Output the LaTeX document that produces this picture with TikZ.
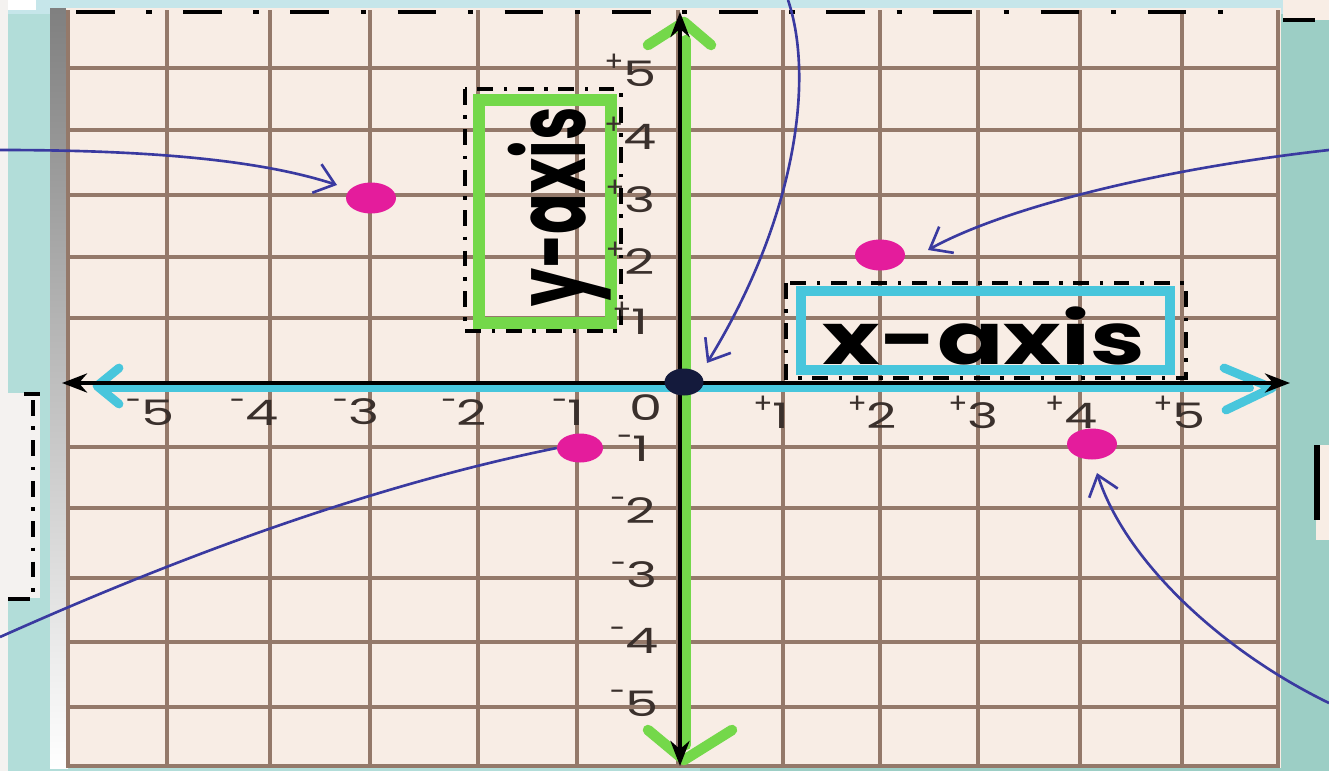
\documentclass[tikz,border=0pt]{standalone}
\usepackage{fontspec}
\usepackage{graphicx}
\setmainfont{Poppins}
\usetikzlibrary{arrows.meta,shapes.geometric}
\definecolor{paper}{HTML}{F8EDE5}
\definecolor{tealL}{HTML}{B2DDD9}
\definecolor{tealR}{HTML}{9CCEC5}
\definecolor{sky}{HTML}{C6E6EA}
\definecolor{shade}{HTML}{A6C9BF}
\definecolor{gridc}{HTML}{94796A}
\definecolor{pinkdot}{HTML}{E41C9C}
\definecolor{navy}{HTML}{141A3C}
\definecolor{pen}{HTML}{3A3AA0}
\definecolor{axgreen}{HTML}{74D84A}
\definecolor{axcyan}{HTML}{48C6DC}
\definecolor{ink}{HTML}{3A302C}
\definecolor{card}{HTML}{F4F2F0}
\newcommand{\tnum}[2]{\llap{\raisebox{0.42em}{\fontsize{16}{16}\selectfont #1}}\scalebox{1.5}[1]{#2}}
\begin{document}
\begin{tikzpicture}[x=0.02cm,y=-0.02cm,
  gridline/.style={gridc, line width=2.1pt},
  dashdotline/.style={black, line width=2.3pt, dash pattern=on 22pt off 18pt on 3pt off 18pt},
  boxdash/.style={black, line width=2pt, dash pattern=on 9pt off 6pt on 2pt off 6pt},
  ticklab/.style={ink, font=\fontsize{20}{22}\selectfont, inner sep=0pt},
  pinkpt/.style={ellipse, fill=pinkdot, minimum width=1cm, minimum height=0.62cm, inner sep=0pt},
  penarrow/.style={pen, line width=1.5pt, -{Straight Barb[length=0.38cm, width=0.6cm, line width=1.5pt]}},
  penline/.style={pen, line width=1.5pt},
  axisblack/.style={black, line width=2.4pt, {Stealth[length=0.5cm, width=0.38cm]}-{Stealth[length=0.5cm, width=0.38cm]}},
]
\useasboundingbox (0,0) rectangle (1329,771);
% background
\fill[tealL] (0,0) rectangle (700,771);
\fill[tealR] (700,0) rectangle (1329,771);
\fill[sky] (0,0) rectangle (1329,14);
\fill[card] (0,0) rectangle (8,771);
\fill[white] (8,0) rectangle (36,10);
\fill[shade] (50,8) rectangle (68,768);
% left card
\fill[card] (8,393) rectangle (40,598);
\draw[black, line width=2pt] (24,394) -- (40,394);
\draw[black, line width=2pt] (8,599) -- (30,599);
\draw[boxdash] (33,400) -- (33,598);
% right cards
\fill[paper] (1283,0) rectangle (1329,20);
\draw[black, line width=2pt] (1283,20) -- (1315,20);
\fill[paper] (1316,445) rectangle (1329,540);
\draw[black, line width=3pt] (1317,445) -- (1317,520);
% paper
\fill[paper] (66,8) rectangle (1281,768);
% grid
\foreach \gx in {68,167,270,370,478,577,783,880,978,1080,1182,1278}
  \draw[gridline] (\gx,10) -- (\gx,768);
\foreach \gy in {68,130,195,257,318,447,508,578,642,707,766}
  \draw[gridline] (68,\gy) -- (1278,\gy);
\draw[gridline] (678,10) -- (678,768);
\draw[gridline] (68,383) -- (1278,383);
% top border
\draw[dashdotline] (76,12) -- (1252,12);
% y-axis label box
\draw[boxdash] (465,89) rectangle (621,331);
\draw[axgreen, line width=7pt] (479,100) rectangle (611,323);
\node[inner sep=0pt] (ylab) at (560,207)
  {\rotatebox{90}{\scalebox{0.62}[1]{\fontsize{55}{60}\selectfont\bfseries y-axis}}};
% x-axis label box
\draw[boxdash] (786,283) rectangle (1186,378);
\draw[axcyan, line width=6pt] (801,291) rectangle (1170,370);
\node[inner sep=0pt] (xlab) at (984,336)
  {\scalebox{1.36}[1]{\fontsize{41}{44}\selectfont\bfseries x-axis}};
% coloured axis strokes
\draw[axcyan, line width=4.5pt, line cap=round] (105,388) -- (1250,388);
\draw[axcyan, line width=5pt, line cap=round, line join=round] (119,368) -- (97,386) -- (119,404);
\draw[axcyan, line width=5pt, line cap=round, line join=round] (1224,368) -- (1272,388) -- (1226,410);
\draw[axgreen, line width=6pt, line cap=round] (686,40) -- (686,745);
\draw[axgreen, line width=6pt, line cap=round, line join=round] (648,45) -- (684,22) -- (711,45);
\draw[axgreen, line width=6pt, line cap=round, line join=round] (648,730) -- (684,760) -- (732,730);
% black axes
\coordinate (xl) at (62,383);
\coordinate (xr) at (1290,383);
\coordinate (yt) at (680,12);
\coordinate (yb) at (680,766);
\draw[axisblack] (xl) -- (xr);
\draw[axisblack] (yb) -- (yt);
% tick labels x
\node[ticklab] (tx1) at (158,412) {\tnum{-}{5}};
\node[ticklab] (tx2) at (262,412) {\tnum{-}{4}};
\node[ticklab] (tx3) at (364,412) {\tnum{-}{3}};
\node[ticklab] (tx4) at (472,412) {\tnum{-}{2}};
\node[ticklab] (tx5) at (576,412) {\tnum{-}{1}};
\node[ticklab] (tx0) at (646,408) {\scalebox{1.5}[1]{0}};
\node[ticklab] (tx6) at (781,412) {\tnum{+}{1}};
\node[ticklab] (tx7) at (882,412) {\tnum{+}{2}};
\node[ticklab] (tx8) at (983,412) {\tnum{+}{3}};
\node[ticklab] (tx9) at (1081,412) {\tnum{+}{4}};
\node[ticklab] (tx10) at (1189,412) {\tnum{+}{5}};
% tick labels y
\node[ticklab] (ty5) at (640,70) {\tnum{+}{5}};
\node[ticklab] (ty4) at (640,133) {\tnum{+}{4}};
\node[ticklab] (ty3) at (640,196) {\tnum{+}{3}};
\node[ticklab] (ty2) at (640,258) {\tnum{+}{2}};
\node[ticklab] (ty1) at (640,318) {\tnum{+}{1}};
\node[ticklab] (tym1) at (641,448) {\tnum{-}{1}};
\node[ticklab] (tym2) at (641,510) {\tnum{-}{2}};
\node[ticklab] (tym3) at (642,575) {\tnum{-}{3}};
\node[ticklab] (tym4) at (642,640) {\tnum{-}{4}};
\node[ticklab] (tym5) at (642,703) {\tnum{-}{5}};
% points
\node[pinkpt] (pA) at (371,198) {};
\node[pinkpt] (pB) at (880,255) {};
\node[pinkpt, minimum width=0.92cm, minimum height=0.58cm] (pC) at (580,448) {};
\node[pinkpt] (pD) at (1092,444) {};
\node[ellipse, fill=navy, minimum width=0.78cm, minimum height=0.54cm, inner sep=0pt] (orig) at (684,382) {};
% pen arrows
\coordinate (s1) at (0,150);   \coordinate (t1) at (337,185);
\coordinate (s2) at (788,0);   \coordinate (t2) at (707,363);
\coordinate (s3) at (1329,150); \coordinate (t3) at (928,250);
\coordinate (s4) at (0,637);
\coordinate (s5) at (1329,703); \coordinate (t5) at (1097,473);
\draw[penarrow] (s1) .. controls (150,150) and (260,160) .. (t1);
\draw[penarrow] (s2) .. controls (815,80) and (795,220) .. (t2);
\draw[penarrow] (s3) .. controls (1150,170) and (1000,210) .. (t3);
\draw[penline] (s4) .. controls (150,570) and (350,490) .. (pC.west);
\draw[penarrow] (s5) .. controls (1220,650) and (1125,560) .. (t5);
\end{tikzpicture}
\end{document}
